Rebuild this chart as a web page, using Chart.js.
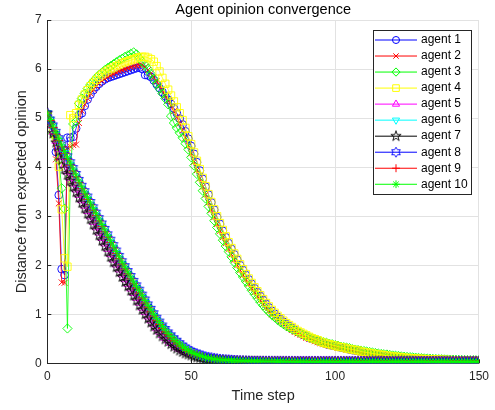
<!DOCTYPE html>
<html>
<head>
<meta charset="utf-8">
<script src="https://cdn.jsdelivr.net/npm/chart.js@4.4.0/dist/chart.umd.min.js"></script>
<style>
  html, body { margin: 0; padding: 0; background: #fff; }
</style>
</head>
<body>
<canvas id="chart" width="495" height="410"></canvas>
<script>
// one value per time step, t = 0 .. 150
const chartTitle = "Agent opinion convergence";
const agentNames = ["agent 1", "agent 2", "agent 3", "agent 4", "agent 5",
                    "agent 6", "agent 7", "agent 8", "agent 9", "agent 10"];
const xTicks = [0, 50, 100, 150];
const yTicks = [0, 1, 2, 3, 4, 5, 6, 7];

const agent1 = [
  5.08, 4.95, 4.72, 4.31, 3.43, 1.92, 1.8, 4.6, 4.6, 4.62,
  4.79, 5.06, 5.1, 5.25, 5.38, 5.48, 5.57, 5.64, 5.7, 5.75,
  5.79, 5.82, 5.84, 5.86, 5.88, 5.9, 5.92, 5.94, 5.96, 5.98,
  6.0, 6.02, 6.03, 6.0, 5.88, 5.87, 5.84, 5.77, 5.69, 5.61,
  5.53, 5.45, 5.37, 5.29, 5.2, 5.1, 4.99, 4.87, 4.73, 4.58,
  4.43, 4.27, 4.1, 3.93, 3.76, 3.6, 3.44, 3.28, 3.13, 2.98,
  2.84, 2.7, 2.57, 2.45, 2.33, 2.22, 2.11, 2.0, 1.9, 1.8,
  1.71, 1.62, 1.53, 1.45, 1.37, 1.29, 1.21, 1.14, 1.07, 1.01,
  0.95, 0.9, 0.85, 0.8, 0.76, 0.72, 0.68, 0.64, 0.61, 0.58,
  0.55, 0.52, 0.5, 0.48, 0.45, 0.43, 0.41, 0.39, 0.38, 0.36,
  0.35, 0.34, 0.32, 0.31, 0.3, 0.28, 0.27, 0.26, 0.25, 0.24,
  0.22, 0.21, 0.2, 0.19, 0.185, 0.18, 0.17, 0.16, 0.15, 0.145,
  0.14, 0.13, 0.125, 0.12, 0.11, 0.105, 0.1, 0.097, 0.094, 0.09,
  0.088, 0.085, 0.083, 0.08, 0.078, 0.075, 0.073, 0.07, 0.068, 0.066,
  0.064, 0.062, 0.06, 0.059, 0.058, 0.057, 0.056, 0.055, 0.054, 0.053,
  0.052
];
const agent2 = [
  5.08, 4.9, 4.65, 4.16, 3.26, 1.65, 1.64, 4.4, 4.42, 4.45,
  4.46, 4.9, 5.15, 5.28, 5.4, 5.5, 5.58, 5.65, 5.71, 5.76,
  5.8, 5.84, 5.87, 5.9, 5.93, 5.96, 5.98, 6.0, 6.02, 6.04,
  6.06, 6.07, 6.08, 6.08, 6.04, 5.98, 5.91, 5.83, 5.75, 5.66,
  5.56, 5.46, 5.36, 5.25, 5.14, 5.02, 4.89, 4.75, 4.6, 4.44,
  4.28, 4.11, 3.94, 3.77, 3.6, 3.44, 3.28, 3.13, 2.98, 2.84,
  2.7, 2.57, 2.45, 2.33, 2.22, 2.11, 2.0, 1.9, 1.8, 1.71,
  1.62, 1.53, 1.45, 1.37, 1.29, 1.21, 1.14, 1.07, 1.0, 0.95,
  0.9, 0.85, 0.8, 0.76, 0.72, 0.68, 0.64, 0.61, 0.58, 0.55,
  0.52, 0.5, 0.48, 0.45, 0.43, 0.41, 0.39, 0.38, 0.36, 0.35,
  0.34, 0.32, 0.31, 0.3, 0.28, 0.27, 0.26, 0.25, 0.24, 0.22,
  0.21, 0.2, 0.19, 0.185, 0.18, 0.17, 0.16, 0.15, 0.145, 0.14,
  0.13, 0.125, 0.12, 0.11, 0.105, 0.1, 0.097, 0.094, 0.09, 0.088,
  0.085, 0.083, 0.08, 0.078, 0.075, 0.073, 0.07, 0.068, 0.066, 0.064,
  0.062, 0.06, 0.059, 0.058, 0.057, 0.056, 0.055, 0.054, 0.053, 0.052,
  0.05
];
const agent3 = [
  5.08, 4.92, 4.68, 4.6, 4.15, 3.57, 3.15, 0.71, 3.8, 4.88,
  4.93, 5.3, 5.4, 5.5, 5.6, 5.68, 5.75, 5.82, 5.88, 5.93,
  5.98, 6.02, 6.06, 6.1, 6.14, 6.18, 6.21, 6.25, 6.28, 6.31,
  6.34, 6.3, 6.22, 6.15, 6.08, 6.0, 5.9, 5.8, 5.7, 5.6,
  5.5, 5.4, 5.28, 5.04, 4.9, 4.8, 4.7, 4.6, 4.48, 4.36,
  4.2, 4.03, 3.86, 3.69, 3.52, 3.36, 3.2, 3.06, 2.91, 2.77,
  2.64, 2.51, 2.39, 2.28, 2.17, 2.06, 1.95, 1.85, 1.76, 1.67,
  1.58, 1.49, 1.41, 1.33, 1.25, 1.18, 1.11, 1.05, 0.99, 0.94,
  0.89, 0.84, 0.8, 0.76, 0.73, 0.7, 0.67, 0.64, 0.61, 0.58,
  0.55, 0.53, 0.51, 0.49, 0.47, 0.45, 0.43, 0.42, 0.4, 0.39,
  0.37, 0.36, 0.34, 0.33, 0.32, 0.31, 0.29, 0.28, 0.27, 0.26,
  0.25, 0.24, 0.23, 0.22, 0.21, 0.2, 0.19, 0.185, 0.18, 0.17,
  0.16, 0.155, 0.15, 0.14, 0.135, 0.13, 0.125, 0.12, 0.115, 0.11,
  0.105, 0.1, 0.097, 0.094, 0.09, 0.088, 0.085, 0.083, 0.08, 0.078,
  0.076, 0.074, 0.072, 0.07, 0.068, 0.066, 0.065, 0.064, 0.063, 0.062,
  0.06
];
const agent4 = [
  5.08, 4.93, 4.74, 4.6, 4.01, 3.14, 2.14, 1.97, 5.06, 5.0,
  5.1, 5.27, 5.38, 5.48, 5.57, 5.65, 5.72, 5.78, 5.84, 5.89,
  5.93, 5.97, 6.0, 6.03, 6.06, 6.09, 6.12, 6.14, 6.16, 6.18,
  6.2, 6.22, 6.24, 6.25, 6.25, 6.23, 6.2, 6.15, 6.06, 5.95,
  5.82, 5.7, 5.58, 5.46, 5.34, 5.22, 5.1, 4.96, 4.8, 4.63,
  4.47, 4.3, 4.13, 3.96, 3.78, 3.61, 3.45, 3.29, 3.14, 3.0,
  2.86, 2.72, 2.59, 2.47, 2.35, 2.24, 2.13, 2.02, 1.92, 1.82,
  1.73, 1.64, 1.55, 1.47, 1.39, 1.31, 1.23, 1.16, 1.09, 1.03,
  0.97, 0.92, 0.87, 0.82, 0.78, 0.74, 0.7, 0.66, 0.63, 0.6,
  0.57, 0.54, 0.51, 0.49, 0.47, 0.44, 0.42, 0.4, 0.39, 0.37,
  0.36, 0.34, 0.33, 0.32, 0.3, 0.29, 0.28, 0.27, 0.26, 0.24,
  0.23, 0.22, 0.21, 0.2, 0.19, 0.18, 0.175, 0.165, 0.155, 0.15,
  0.14, 0.135, 0.13, 0.125, 0.115, 0.11, 0.105, 0.1, 0.097, 0.094,
  0.09, 0.087, 0.085, 0.082, 0.08, 0.077, 0.075, 0.072, 0.07, 0.068,
  0.066, 0.064, 0.062, 0.061, 0.06, 0.059, 0.058, 0.057, 0.056, 0.055,
  0.054
];
const agent5 = [
  5.1, 4.9, 4.71, 4.53, 4.36, 4.2, 4.05, 3.91, 3.78, 3.66,
  3.54, 3.43, 3.32, 3.21, 3.1, 2.99, 2.88, 2.77, 2.66, 2.55,
  2.44, 2.33, 2.22, 2.11, 2.01, 1.91, 1.81, 1.71, 1.61, 1.52,
  1.43, 1.33, 1.23, 1.13, 1.04, 0.95, 0.87, 0.79, 0.71, 0.64,
  0.57, 0.51, 0.46, 0.41, 0.36, 0.32, 0.29, 0.26, 0.23, 0.21,
  0.19, 0.17, 0.155, 0.14, 0.13, 0.12, 0.11, 0.1, 0.095, 0.09,
  0.08, 0.077, 0.074, 0.071, 0.068, 0.065, 0.062, 0.06, 0.058, 0.056,
  0.055, 0.054, 0.053, 0.052, 0.051, 0.05, 0.05, 0.05, 0.05, 0.05,
  0.05, 0.05, 0.05, 0.05, 0.05, 0.05, 0.05, 0.05, 0.05, 0.05,
  0.05, 0.05, 0.05, 0.05, 0.05, 0.05, 0.05, 0.05, 0.05, 0.05,
  0.05, 0.05, 0.05, 0.05, 0.05, 0.05, 0.05, 0.05, 0.05, 0.05,
  0.05, 0.05, 0.05, 0.05, 0.05, 0.05, 0.05, 0.05, 0.05, 0.05,
  0.05, 0.05, 0.05, 0.05, 0.05, 0.05, 0.05, 0.05, 0.05, 0.05,
  0.05, 0.05, 0.05, 0.05, 0.05, 0.05, 0.05, 0.05, 0.05, 0.05,
  0.05, 0.05, 0.05, 0.05, 0.05, 0.05, 0.05, 0.05, 0.05, 0.05,
  0.05
];
const agent6 = [
  5.1, 4.96, 4.82, 4.68, 4.55, 4.42, 4.29, 4.17, 4.05, 3.93,
  3.81, 3.69, 3.57, 3.46, 3.35, 3.24, 3.13, 3.02, 2.91, 2.8,
  2.69, 2.58, 2.47, 2.36, 2.25, 2.14, 2.03, 1.93, 1.83, 1.73,
  1.63, 1.54, 1.45, 1.35, 1.25, 1.15, 1.06, 0.97, 0.88, 0.8,
  0.72, 0.65, 0.58, 0.52, 0.46, 0.41, 0.36, 0.31, 0.27, 0.23,
  0.2, 0.17, 0.15, 0.13, 0.11, 0.09, 0.08, 0.07, 0.06, 0.05,
  0.045, 0.04, 0.035, 0.03, 0.026, 0.022, 0.019, 0.016, 0.014, 0.012,
  0.01, 0.009, 0.008, 0.007, 0.006, 0.005, 0.005, 0.004, 0.004, 0.003,
  0.003, 0.003, 0.003, 0.003, 0.003, 0.003, 0.003, 0.003, 0.003, 0.003,
  0.003, 0.003, 0.003, 0.003, 0.003, 0.003, 0.003, 0.003, 0.003, 0.003,
  0.003, 0.003, 0.003, 0.003, 0.003, 0.003, 0.003, 0.003, 0.003, 0.003,
  0.003, 0.003, 0.003, 0.003, 0.003, 0.003, 0.003, 0.003, 0.003, 0.003,
  0.003, 0.003, 0.003, 0.003, 0.003, 0.003, 0.003, 0.003, 0.003, 0.003,
  0.003, 0.003, 0.003, 0.003, 0.003, 0.003, 0.003, 0.003, 0.003, 0.003,
  0.003, 0.003, 0.003, 0.003, 0.003, 0.003, 0.003, 0.003, 0.003, 0.003,
  0.003
];
const agent7 = [
  5.1, 4.89, 4.69, 4.5, 4.32, 4.14, 3.96, 3.84, 3.72, 3.6,
  3.49, 3.38, 3.27, 3.16, 3.05, 2.94, 2.83, 2.72, 2.61, 2.5,
  2.39, 2.28, 2.17, 2.06, 1.96, 1.86, 1.76, 1.66, 1.57, 1.48,
  1.38, 1.28, 1.18, 1.09, 1.0, 0.91, 0.83, 0.75, 0.68, 0.61,
  0.55, 0.49, 0.44, 0.39, 0.34, 0.3, 0.26, 0.23, 0.2, 0.18,
  0.16, 0.14, 0.12, 0.11, 0.1, 0.09, 0.08, 0.075, 0.07, 0.066,
  0.062, 0.058, 0.055, 0.052, 0.05, 0.048, 0.046, 0.044, 0.043, 0.042,
  0.041, 0.04, 0.039, 0.038, 0.037, 0.036, 0.035, 0.035, 0.034, 0.034,
  0.033, 0.033, 0.032, 0.032, 0.031, 0.031, 0.03, 0.03, 0.03, 0.03,
  0.03, 0.03, 0.03, 0.03, 0.03, 0.03, 0.03, 0.03, 0.03, 0.03,
  0.03, 0.03, 0.03, 0.03, 0.03, 0.03, 0.03, 0.03, 0.03, 0.03,
  0.03, 0.03, 0.03, 0.03, 0.03, 0.03, 0.03, 0.03, 0.03, 0.03,
  0.03, 0.03, 0.03, 0.03, 0.03, 0.03, 0.03, 0.03, 0.03, 0.03,
  0.03, 0.03, 0.03, 0.03, 0.03, 0.03, 0.03, 0.03, 0.03, 0.03,
  0.03, 0.03, 0.03, 0.03, 0.03, 0.03, 0.03, 0.03, 0.03, 0.03,
  0.03
];
const agent8 = [
  5.1, 4.97, 4.85, 4.72, 4.59, 4.46, 4.34, 4.22, 4.1, 3.98,
  3.86, 3.74, 3.62, 3.51, 3.4, 3.29, 3.18, 3.07, 2.96, 2.85,
  2.74, 2.63, 2.52, 2.41, 2.3, 2.19, 2.08, 1.98, 1.88, 1.78,
  1.68, 1.59, 1.5, 1.4, 1.3, 1.2, 1.11, 1.02, 0.93, 0.85,
  0.77, 0.7, 0.63, 0.57, 0.51, 0.46, 0.41, 0.36, 0.32, 0.28,
  0.25, 0.22, 0.2, 0.18, 0.16, 0.14, 0.13, 0.12, 0.11, 0.1,
  0.09, 0.085, 0.08, 0.075, 0.07, 0.066, 0.062, 0.058, 0.055, 0.052,
  0.05, 0.048, 0.046, 0.045, 0.044, 0.043, 0.042, 0.041, 0.04, 0.04,
  0.04, 0.04, 0.04, 0.04, 0.04, 0.04, 0.04, 0.04, 0.04, 0.04,
  0.04, 0.04, 0.04, 0.04, 0.04, 0.04, 0.04, 0.04, 0.04, 0.04,
  0.04, 0.04, 0.04, 0.04, 0.04, 0.04, 0.04, 0.04, 0.04, 0.04,
  0.04, 0.04, 0.04, 0.04, 0.04, 0.04, 0.04, 0.04, 0.04, 0.04,
  0.04, 0.04, 0.04, 0.04, 0.04, 0.04, 0.04, 0.04, 0.04, 0.04,
  0.04, 0.04, 0.04, 0.04, 0.04, 0.04, 0.04, 0.04, 0.04, 0.04,
  0.04, 0.04, 0.04, 0.04, 0.04, 0.04, 0.04, 0.04, 0.04, 0.04,
  0.04
];
const agent9 = [
  5.1, 4.95, 4.81, 4.67, 4.54, 4.41, 4.28, 4.16, 4.04, 3.92,
  3.8, 3.68, 3.56, 3.45, 3.34, 3.23, 3.12, 3.01, 2.9, 2.79,
  2.68, 2.57, 2.46, 2.35, 2.24, 2.13, 2.02, 1.92, 1.82, 1.72,
  1.62, 1.53, 1.43, 1.33, 1.23, 1.14, 1.05, 0.96, 0.87, 0.79,
  0.71, 0.64, 0.58, 0.52, 0.46, 0.41, 0.36, 0.32, 0.28, 0.24,
  0.21, 0.19, 0.17, 0.15, 0.13, 0.12, 0.1, 0.09, 0.085, 0.08,
  0.075, 0.07, 0.066, 0.062, 0.058, 0.055, 0.052, 0.05, 0.048, 0.046,
  0.045, 0.044, 0.043, 0.042, 0.041, 0.04, 0.04, 0.04, 0.04, 0.04,
  0.04, 0.04, 0.04, 0.04, 0.04, 0.04, 0.04, 0.04, 0.04, 0.04,
  0.04, 0.04, 0.04, 0.04, 0.04, 0.04, 0.04, 0.04, 0.04, 0.04,
  0.04, 0.04, 0.04, 0.04, 0.04, 0.04, 0.04, 0.04, 0.04, 0.04,
  0.04, 0.04, 0.04, 0.04, 0.04, 0.04, 0.04, 0.04, 0.04, 0.04,
  0.04, 0.04, 0.04, 0.04, 0.04, 0.04, 0.04, 0.04, 0.04, 0.04,
  0.04, 0.04, 0.04, 0.04, 0.04, 0.04, 0.04, 0.04, 0.04, 0.04,
  0.04, 0.04, 0.04, 0.04, 0.04, 0.04, 0.04, 0.04, 0.04, 0.04,
  0.04
];
const agent10 = [
  5.1, 4.97, 4.84, 4.71, 4.58, 4.45, 4.32, 4.2, 4.08, 3.96,
  3.84, 3.72, 3.6, 3.49, 3.38, 3.27, 3.16, 3.05, 2.94, 2.83,
  2.72, 2.61, 2.5, 2.39, 2.28, 2.17, 2.06, 1.96, 1.86, 1.76,
  1.66, 1.57, 1.48, 1.38, 1.28, 1.18, 1.09, 1.0, 0.91, 0.83,
  0.75, 0.68, 0.61, 0.55, 0.49, 0.44, 0.39, 0.34, 0.3, 0.26,
  0.23, 0.2, 0.18, 0.16, 0.14, 0.12, 0.11, 0.1, 0.09, 0.08,
  0.075, 0.07, 0.066, 0.062, 0.058, 0.055, 0.052, 0.05, 0.048, 0.046,
  0.044, 0.043, 0.042, 0.041, 0.04, 0.039, 0.038, 0.037, 0.036, 0.035,
  0.035, 0.034, 0.034, 0.033, 0.033, 0.032, 0.032, 0.031, 0.031, 0.03,
  0.03, 0.03, 0.03, 0.03, 0.03, 0.03, 0.03, 0.03, 0.03, 0.03,
  0.03, 0.03, 0.03, 0.03, 0.03, 0.03, 0.03, 0.03, 0.03, 0.03,
  0.03, 0.03, 0.03, 0.03, 0.03, 0.03, 0.03, 0.03, 0.03, 0.03,
  0.03, 0.03, 0.03, 0.03, 0.03, 0.03, 0.03, 0.03, 0.03, 0.03,
  0.03, 0.03, 0.03, 0.03, 0.03, 0.03, 0.03, 0.03, 0.03, 0.03,
  0.03, 0.03, 0.03, 0.03, 0.03, 0.03, 0.03, 0.03, 0.03, 0.03,
  0.03
];
const agentValues = [agent1, agent2, agent3, agent4, agent5,
                     agent6, agent7, agent8, agent9, agent10];

const FONT = '"Liberation Sans", Arial, Helvetica, sans-serif';
const INK = '#262626';

// pentagram / hexagram outlines as little canvases (matlab 'p' and 'h')
function starMarker(points, outer, inner, color) {
  const c = document.createElement('canvas');
  c.width = 14; c.height = 14;
  const g = c.getContext('2d');
  g.strokeStyle = color;
  g.lineWidth = 0.9;
  g.beginPath();
  for (let k = 0; k < points * 2; k++) {
    const r = k % 2 ? inner : outer;
    const a = -Math.PI / 2 + k * Math.PI / points;
    const px = 7 + r * Math.cos(a), py = 7 + r * Math.sin(a);
    if (k === 0) g.moveTo(px, py); else g.lineTo(px, py);
  }
  g.closePath();
  g.stroke();
  return c;
}

const lineStyles = [
  { color: '#0000ff', marker: 'circle', size: 3.9 },
  { color: '#ff0000', marker: 'crossRot', size: 4.2 },
  { color: '#00ff00', marker: 'rectRot', size: 4.6 },
  { color: '#ffff00', marker: 'rect', size: 5.2 },
  { color: '#ff00ff', marker: 'triangle', size: 4.6 },
  { color: '#00ffff', marker: 'triangle', size: 4.6, rotation: 180 },
  { color: '#000000', marker: starMarker(5, 5.4, 2.1, '#000000'), size: 4.5 },
  { color: '#0000ff', marker: starMarker(6, 5, 2.9, '#0000ff'), size: 4.5 },
  { color: '#ff0000', marker: 'cross', size: 4.4 },
  { color: '#00ff00', marker: 'star', size: 4.3 }
];

const datasets = agentValues.map((vals, i) => ({
  label: agentNames[i],
  data: vals.map((v, t) => ({ x: t, y: v })),
  borderColor: lineStyles[i].color,
  borderWidth: 0.8,
  pointStyle: lineStyles[i].marker,
  pointRadius: lineStyles[i].size,
  pointRotation: lineStyles[i].rotation || 0,
  pointBorderColor: lineStyles[i].color,
  pointBackgroundColor: 'rgba(0,0,0,0)',
  pointBorderWidth: 0.9,
  tension: 0,
  order: agentValues.length - i   // later agents drawn on top, like matlab
}));

const matlabBits = {
  id: 'matlabBits',
  beforeDatasetsDraw(chart) {
    // inward tick marks
    const { ctx, chartArea, scales: { x, y } } = chart;
    ctx.save();
    ctx.strokeStyle = INK;
    ctx.lineWidth = 1;
    ctx.beginPath();
    xTicks.forEach(v => {
      const px = Math.round(x.getPixelForValue(v)) + 0.5;
      ctx.moveTo(px, chartArea.bottom);
      ctx.lineTo(px, chartArea.bottom - 4);
    });
    yTicks.forEach(v => {
      const py = Math.round(y.getPixelForValue(v)) + 0.5;
      ctx.moveTo(chartArea.left, py);
      ctx.lineTo(chartArea.left + 4, py);
    });
    ctx.stroke();
    ctx.restore();
  },
  afterDraw(chart) {
    const { ctx, chartArea } = chart;
    ctx.save();
    // title centred over the axes, not the whole canvas
    ctx.fillStyle = '#000';
    ctx.font = '14.5px ' + FONT;
    ctx.textAlign = 'center';
    ctx.textBaseline = 'middle';
    ctx.fillText(chartTitle, (chartArea.left + chartArea.right) / 2, 9.5);

    // legend box in the upper right corner
    ctx.fillStyle = '#fff';
    ctx.fillRect(373.5, 30.5, 98, 164);
    ctx.strokeStyle = INK;
    ctx.lineWidth = 1;
    ctx.strokeRect(373.5, 30.5, 98, 164);
    chart.data.datasets.forEach((ds, i) => {
      const yy = 40 + i * 16.03;
      ctx.strokeStyle = ds.borderColor;
      ctx.lineWidth = 1;
      ctx.beginPath();
      ctx.moveTo(375, yy);
      ctx.lineTo(417, yy);
      ctx.stroke();
      ctx.fillStyle = 'rgba(0,0,0,0)';
      Chart.helpers.drawPoint(ctx, {
        pointStyle: ds.pointStyle, radius: ds.pointRadius * 0.9,
        rotation: ds.pointRotation, borderWidth: 1
      }, 396, yy);
      ctx.fillStyle = '#000';
      ctx.font = '12px ' + FONT;
      ctx.textBaseline = 'middle';
      ctx.textAlign = 'left';
      ctx.fillText(agentNames[i], 421, yy);
    });
    ctx.restore();
  }
};

new Chart(document.getElementById('chart').getContext('2d'), {
  type: 'line',
  data: { datasets },
  plugins: [matlabBits],
  options: {
    responsive: false,
    animation: false,
    events: [],
    layout: { padding: { left: 0, right: 12.7, top: 20, bottom: 0 } },
    plugins: {
      legend: { display: false },
      tooltip: { enabled: false },
      title: { display: false }
    },
    scales: {
      x: {
        type: 'linear',
        min: 0,
        max: 150,
        afterBuildTicks: s => { s.ticks = xTicks.map(v => ({ value: v })); },
        afterFit: s => { s.height = 46.7; },
        grid: { color: '#e2e2e2', drawTicks: false },
        border: { color: INK },
        ticks: { padding: 6, color: INK, font: { family: FONT, size: 12 } },
        title: {
          display: true, text: 'Time step', color: INK,
          font: { family: FONT, size: 14.5 },
          padding: { top: 0, bottom: 5.3 }
        }
      },
      y: {
        type: 'linear',
        min: 0,
        max: 7,
        afterBuildTicks: s => { s.ticks = yTicks.map(v => ({ value: v })); },
        afterFit: s => { s.width = 47.3; },
        grid: { color: '#e2e2e2', drawTicks: false },
        border: { color: INK },
        ticks: { padding: 5.6, color: INK, font: { family: FONT, size: 12 } },
        title: {
          display: true, text: 'Distance from expected opinion', color: INK,
          font: { family: FONT, size: 14.5 },
          padding: { top: 13, bottom: 0 }
        }
      }
    }
  }
});
</script>
</body>
</html>
